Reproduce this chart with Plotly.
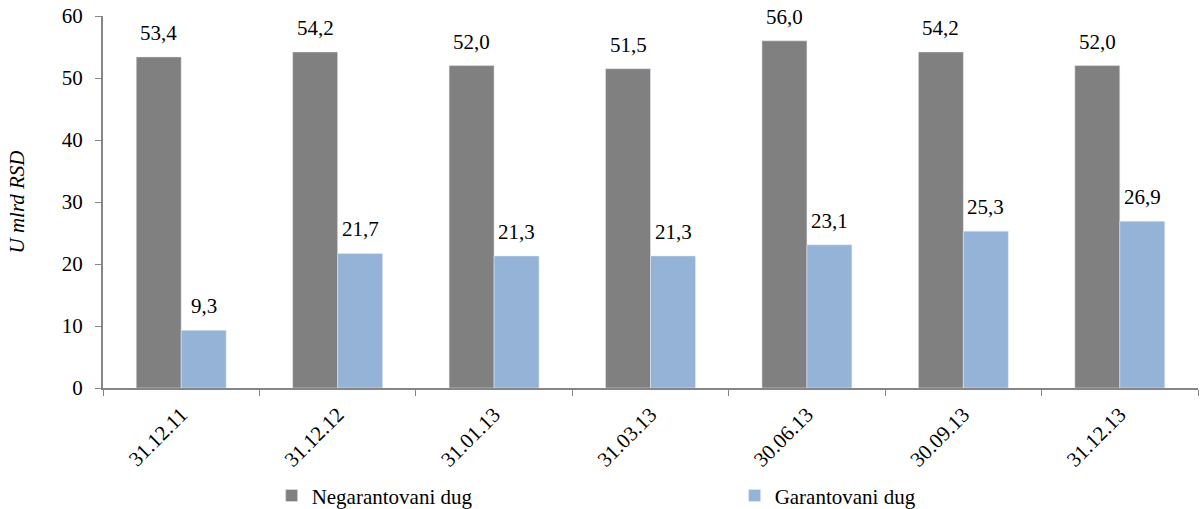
import plotly.graph_objects as go

# data (billions RSD)
dates = ['31.12.11', '31.12.12', '31.01.13', '31.03.13', '30.06.13', '30.09.13', '31.12.13']
negarantovani = [53.4, 54.2, 52.0, 51.5, 56.0, 54.2, 52.0]
garantovani = [9.3, 21.7, 21.3, 21.3, 23.1, 25.3, 26.9]

font_main = dict(family='"Times New Roman", "Liberation Serif", "DejaVu Serif", serif', size=21, color='black')

fig = go.Figure()
fig.add_trace(go.Bar(
    x=dates,
    y=negarantovani,
    name='Negarantovani dug',
    marker_color='#808080',
))
fig.add_trace(go.Bar(
    x=dates,
    y=garantovani,
    name='Garantovani dug',
    marker_color='#95B3D7',
))

# value labels above each bar
for vals, shift in [(negarantovani, -22.5), (garantovani, 22.5)]:
    for d, v in zip(dates, vals):
        fig.add_annotation(
            x=d, y=v, xref='x', yref='y',
            text=f'{v:.1f}'.replace('.', ','),
            showarrow=False, xshift=shift, yshift=10,
            yanchor='bottom', font=font_main
        )

fig.update_layout(
    width=1201, height=509,
    barmode='group',
    bargap=0.425,
    bargroupgap=0,
    font=font_main,
    plot_bgcolor='white',
    paper_bgcolor='white',
    margin=dict(l=103, r=3, t=16, b=121, autoexpand=False),
    legend=dict(
        orientation='h',
        x=0.154, xanchor='left',
        y=-0.29, yanchor='middle',
        entrywidth=418, entrywidthmode='pixels',
        font=font_main,
    ),
)
fig.update_xaxes(
    showline=True, linecolor='#868686', linewidth=2,
    ticks='outside', tickson='boundaries', ticklen=6, tickcolor='#868686',
    tickangle=-45, tickfont=font_main, showgrid=False, automargin=False,
    ticklabelstandoff=4
)
fig.update_yaxes(
    range=[0, 60], dtick=10,
    showline=True, linecolor='#868686', linewidth=2,
    ticks='outside', ticklen=6, tickcolor='#868686',
    showgrid=False, zeroline=False, tickfont=font_main, automargin=False,
    ticklabelstandoff=8,
    title=dict(text='<i>U mlrd RSD</i>', font=font_main, standoff=31)
)

fig.write_html("out.html", config={'displayModeBar': False},
               post_script="document.body.style.margin='0';")
